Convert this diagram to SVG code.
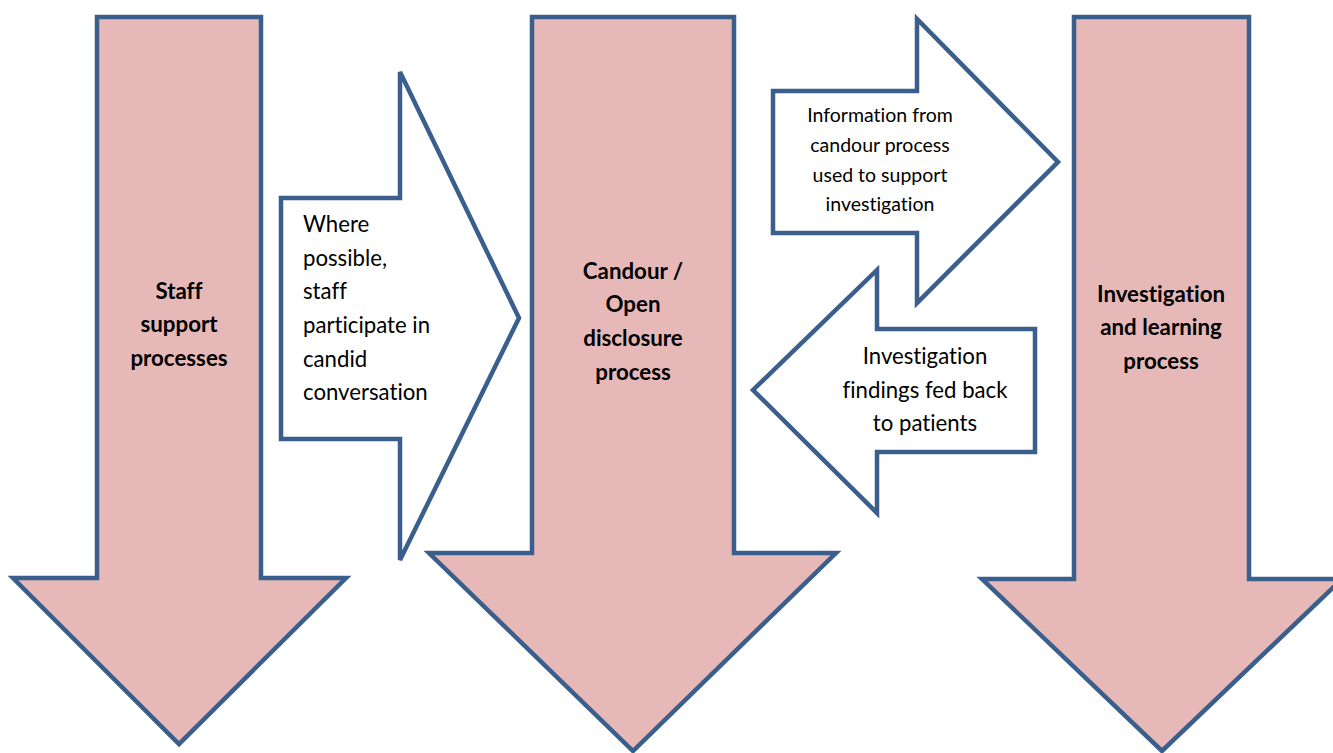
<svg xmlns="http://www.w3.org/2000/svg" width="1333" height="753" viewBox="0 0 1333 753">
<style>
.big{fill:#E6B9B8;stroke:#3A5F8C;stroke-width:4.5;stroke-linejoin:miter}
.wht{fill:#FFFFFF;stroke:#3A5F8C;stroke-width:4.5;stroke-linejoin:miter}
text{font-family:Lato,"Open Sans",sans-serif;fill:#000;font-variant-ligatures:none}
.b{font-weight:bold;font-size:22.3px;text-anchor:middle}
.n{font-size:22.2px}
.s{font-size:19.5px;text-anchor:middle}
</style>
<rect width="1333" height="753" fill="#FFFFFF"/>
<g id="staff">
<polygon class="big" points="97,17 261,17 261,578 346,578 179,744 13,578 97,578"/>
<text class="b" x="179" y="299">Staff</text>
<text class="b" x="179" y="332">support</text>
<text class="b" x="179" y="366">processes</text>
</g>
<g id="candour">
<polygon class="big" points="532,17 734,17 734,553 836,553 633,751 429,553 532,553"/>
<text class="b" x="633" y="279">Candour /</text>
<text class="b" x="633" y="312">Open</text>
<text class="b" x="633" y="346">disclosure</text>
<text class="b" x="633" y="380">process</text>
</g>
<g id="investigation">
<polygon class="big" points="1074,17 1249,17 1249,579 1342,579 1162,751 982,579 1074,579"/>
<text class="b" x="1161" y="302">Investigation</text>
<text class="b" x="1161" y="335">and learning</text>
<text class="b" x="1161" y="369">process</text>
</g>
<g id="connectors">
<g id="where">
<polygon class="wht" points="281,198 400,198 400,72 519,318 400,560 400,439 281,439"/>
<text class="n" x="303" y="232">Where</text>
<text class="n" x="303" y="266">possible,</text>
<text class="n" x="303" y="299">staff</text>
<text class="n" x="303" y="333">participate in</text>
<text class="n" x="303" y="367">candid</text>
<text class="n" x="303" y="400">conversation</text>
</g>
<g id="information">
<polygon class="wht" points="773,91 917,91 917,19 1058,162 917,303 917,233 773,233"/>
<text class="s" x="880" y="122">Information from</text>
<text class="s" x="880" y="152">candour process</text>
<text class="s" x="880" y="182">used to support</text>
<text class="s" x="880" y="211">investigation</text>
</g>
<g id="findings">
<polygon class="wht" points="1035,329 877,329 877,270 753,390 877,513 877,452 1035,452"/>
<text class="n" x="925" y="364" text-anchor="middle">Investigation</text>
<text class="n" x="925" y="398" text-anchor="middle">findings fed back</text>
<text class="n" x="925" y="431" text-anchor="middle">to patients</text>
</g>
</g>
</svg>
